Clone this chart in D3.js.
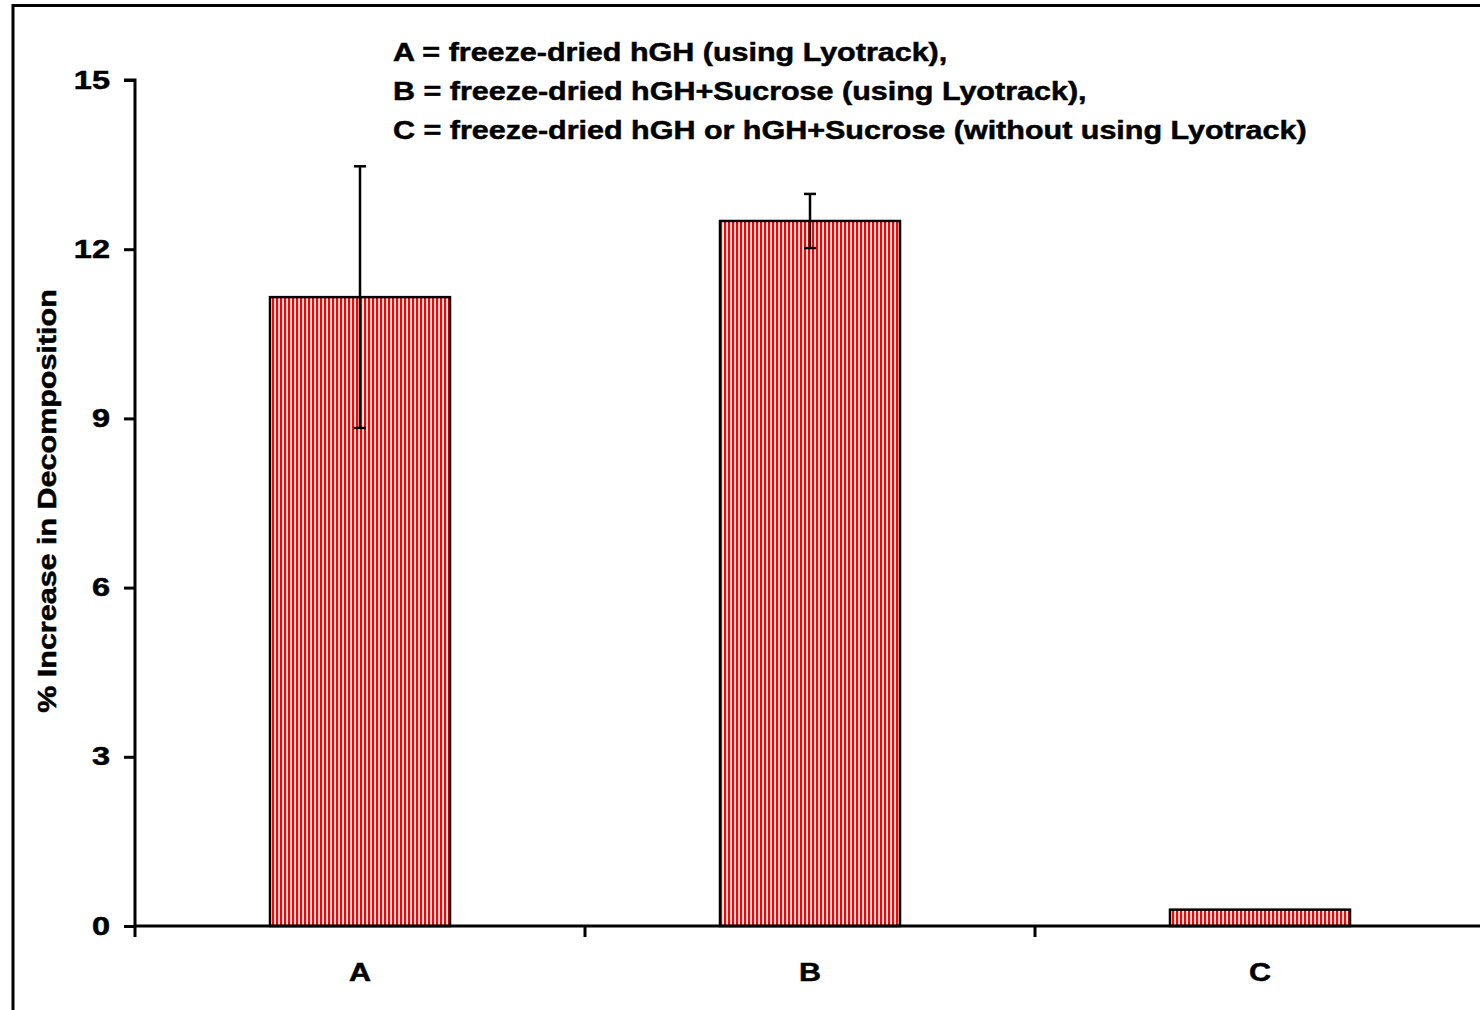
<!DOCTYPE html>
<html>
<head>
<meta charset="utf-8">
<script src="https://cdn.jsdelivr.net/npm/d3@7/dist/d3.min.js"></script>
<style>
  html, body { margin: 0; padding: 0; background: #fff; }
  svg { display: block; }
  text { font-family: "Liberation Sans", Arial, sans-serif; font-weight: bold; fill: #000;
         stroke: #000; stroke-width: 0.5px; }
</style>
</head>
<body>
<div id="chart"></div>
<script>
// Sample groups, mean % increase in decomposition, and error (± SD)
const categories = ["A", "B", "C"];
const values = [11.15, 12.5, 0.29];
const errors = [2.32, 0.48, 0];
const yTicks = [0, 3, 6, 9, 12, 15];
const legendLines = [
  "A = freeze-dried hGH (using Lyotrack),",
  "B = freeze-dried hGH+Sucrose (using Lyotrack),",
  "C = freeze-dried hGH or hGH+Sucrose (without using Lyotrack)"
];
const yTitle = "% Increase in Decomposition";

const W = 1480, H = 1010;
const plot = { left: 135, right: 1485, top: 80, bottom: 926 };
const wide = 1.22;      // horizontal stretch of the label typeface
const wideNum = 1.3;    // numerals are set a little wider still

const svg = d3.select("#chart").append("svg")
  .attr("width", W).attr("height", H);

// vertical red hatch fill
const defs = svg.append("defs");
const pat = defs.append("pattern")
  .attr("id", "vstripe")
  .attr("patternUnits", "userSpaceOnUse")
  .attr("width", 4).attr("height", 10);
pat.append("rect").attr("width", 4).attr("height", 10).attr("fill", "#fff");
pat.append("rect").attr("x", 0).attr("width", 2.2).attr("height", 10).attr("fill", "#ff0000");

// outer frame (runs off the right and bottom edges)
svg.append("rect")
  .attr("x", 13).attr("y", 5.5)
  .attr("width", W + 20).attr("height", H + 20)
  .attr("fill", "none").attr("stroke", "#000").attr("stroke-width", 3);

const x = d3.scaleBand()
  .domain(categories)
  .range([plot.left, plot.right])
  .paddingInner(0.6).paddingOuter(0.3);

const xOuter = d3.scaleBand()
  .domain(categories)
  .range([plot.left, plot.right]);

const y = d3.scaleLinear().domain([0, 15]).range([plot.bottom, plot.top]);

// bars
svg.append("g").selectAll("rect")
  .data(categories)
  .join("rect")
  .attr("x", d => x(d))
  .attr("width", x.bandwidth())
  .attr("y", (d, i) => y(values[i]))
  .attr("height", (d, i) => y(0) - y(values[i]))
  .attr("fill", "url(#vstripe)")
  .attr("stroke", "#000")
  .attr("stroke-width", 2.5);

// error bars
const eb = svg.append("g").attr("stroke", "#000").attr("stroke-width", 2.5);
categories.forEach((c, i) => {
  if (!errors[i]) return;
  const cx = x(c) + x.bandwidth() / 2;
  const hi = y(values[i] + errors[i]);
  const lo = y(values[i] - errors[i]);
  eb.append("line").attr("x1", cx).attr("x2", cx).attr("y1", hi).attr("y2", lo);
  eb.append("line").attr("x1", cx - 6).attr("x2", cx + 6).attr("y1", hi).attr("y2", hi);
  eb.append("line").attr("x1", cx - 6).attr("x2", cx + 6).attr("y1", lo).attr("y2", lo);
});

// y axis
const yAxis = svg.append("g")
  .attr("transform", `translate(${plot.left},0)`)
  .call(d3.axisLeft(y).tickValues(yTicks).tickSize(11).tickPadding(12));
yAxis.select(".domain").attr("stroke-width", 3).attr("d", `M-11,${plot.top}H0V${plot.bottom}`);
yAxis.selectAll(".tick line").attr("stroke-width", 3);
yAxis.selectAll(".tick text")
  .attr("x", 0)
  .attr("transform", `translate(-25,0) scale(${wideNum},1)`)
  .attr("font-size", 25).attr("font-family", "Liberation Sans, Arial, sans-serif")
  .attr("font-weight", "bold").attr("fill", "#000");

// x axis: boundary ticks between groups, labels centred under bars
const xAxisG = svg.append("g").attr("transform", `translate(0,${plot.bottom})`);
xAxisG.append("line")
  .attr("x1", plot.left - 1).attr("x2", W + 5)
  .attr("stroke", "#000").attr("stroke-width", 3);
const bounds = categories.map(c => xOuter(c)).concat([xOuter.range()[1]]);
xAxisG.selectAll("line.b")
  .data(bounds)
  .join("line").attr("class", "b")
  .attr("x1", d => d).attr("x2", d => d)
  .attr("y1", 0).attr("y2", 11)
  .attr("stroke", "#000").attr("stroke-width", 3);
xAxisG.selectAll("text")
  .data(categories)
  .join("text")
  .attr("transform", d => `translate(${x(d) + x.bandwidth() / 2},55) scale(${wide},1)`)
  .attr("text-anchor", "middle")
  .attr("font-size", 25)
  .text(d => d);

// y title
svg.append("text")
  .attr("transform", `translate(56,${(plot.top + plot.bottom) / 2 - 2}) rotate(-90) scale(${wide},1)`)
  .attr("text-anchor", "middle")
  .attr("font-size", 25)
  .text(yTitle);

// legend text
svg.append("g").selectAll("text")
  .data(legendLines)
  .join("text")
  .attr("transform", (d, i) => `translate(393,${61 + i * 39}) scale(${wide},1)`)
  .attr("font-size", 25)
  .text(d => d);
</script>
</body>
</html>
